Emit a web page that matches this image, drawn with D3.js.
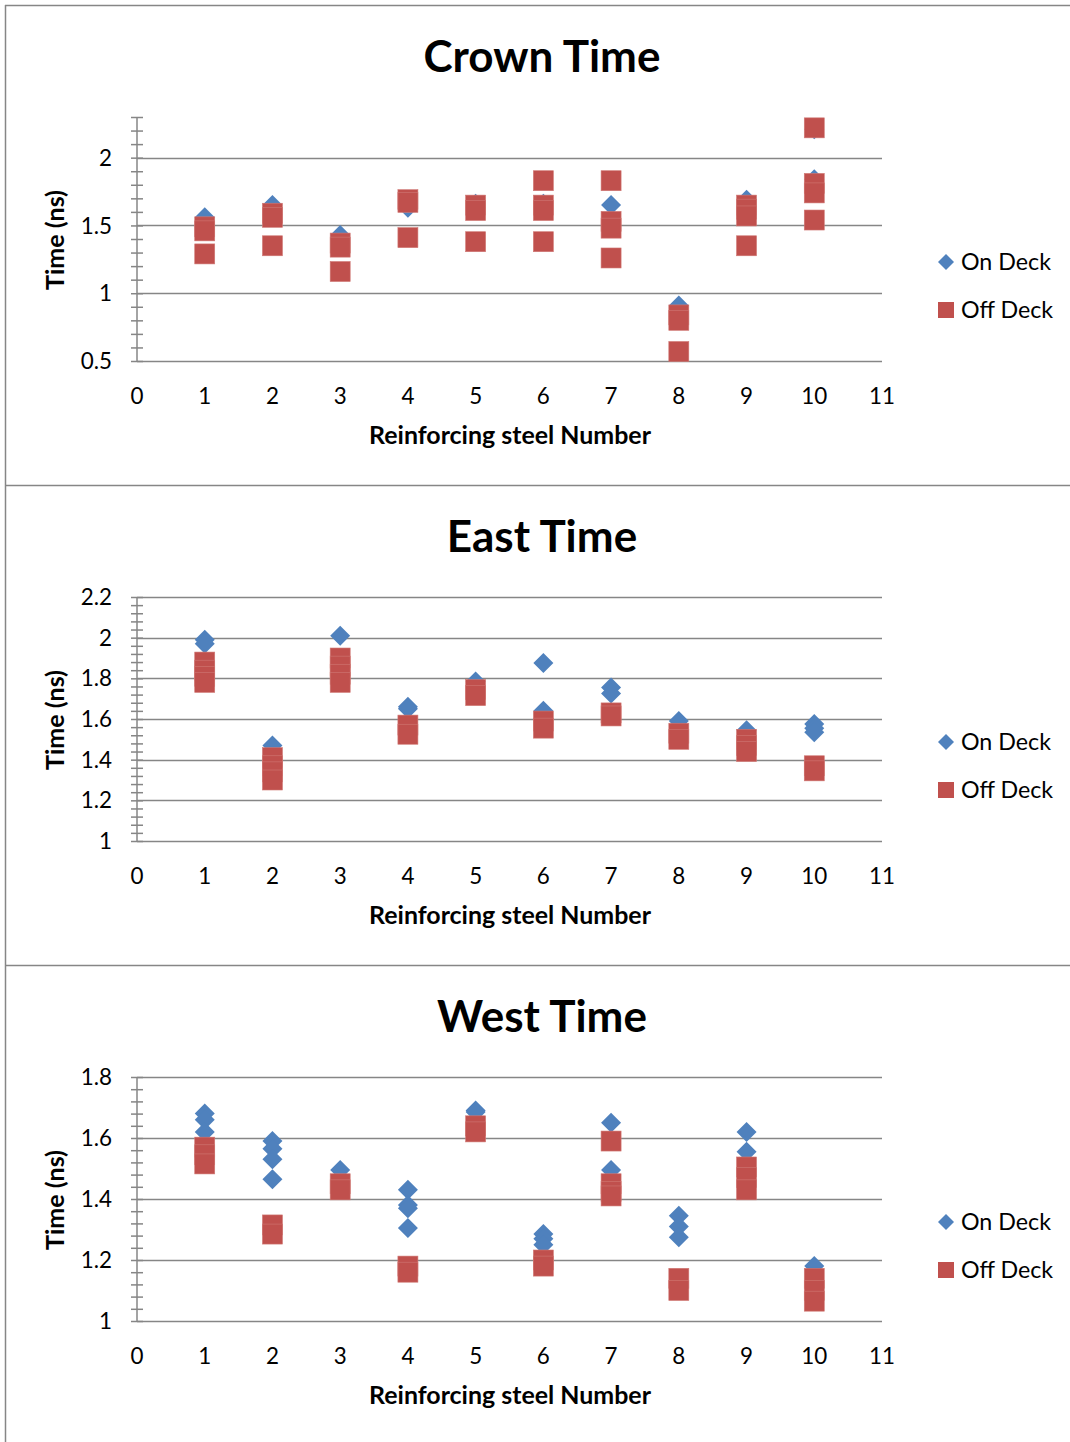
<!DOCTYPE html>
<html><head><meta charset="utf-8">
<script src="https://cdn.jsdelivr.net/npm/d3@7"></script>
<style>body{margin:0;background:#fff}svg{display:block}text{font-family:Lato,"Open Sans",sans-serif}</style>
</head><body><svg id="c" width="1070" height="1442"></svg>
<script>
// ---------- data ----------
const xTickLabels = ["0","1","2","3","4","5","6","7","8","9","10","11"];
const seriesNames = ["On Deck", "Off Deck"];
const xTitle = "Reinforcing steel Number";
const yTitle = "Time (ns)";

const crownTitle = "Crown Time";
const crownYTicks = [0.5, 1, 1.5, 2];
const crownYTickLabels = ["0.5", "1", "1.5", "2"];
const crownYDomain = [0.5, 2.3];
const crownMinorStep = 0.1;
const crownOnDeck = [[1,1.56],[1,1.49],[2,1.65],[2,1.58],[3,1.43],[3,1.37],[4,1.63],[4,1.68],[5,1.66],[5,1.63],
  [6,1.66],[6,1.62],[7,1.65],[7,1.52],[8,0.91],[8,0.83],[9,1.69],[9,1.62],[10,2.21],[10,1.84],[10,1.78]];
const crownOffDeck = [[1,1.49],[1,1.46],[1,1.29],[2,1.59],[2,1.56],[2,1.35],[3,1.37],[3,1.34],[3,1.16],
  [4,1.69],[4,1.67],[4,1.41],[5,1.65],[5,1.61],[5,1.38],[6,1.83],[6,1.65],[6,1.61],[6,1.38],
  [7,1.83],[7,1.53],[7,1.48],[7,1.26],[8,0.84],[8,0.80],[8,0.57],[9,1.65],[9,1.62],[9,1.57],[9,1.35],
  [10,2.22],[10,1.81],[10,1.74],[10,1.54]];

const eastTitle = "East Time";
const eastYTicks = [1, 1.2, 1.4, 1.6, 1.8, 2, 2.2];
const eastYTickLabels = ["1", "1.2", "1.4", "1.6", "1.8", "2", "2.2"];
const eastYDomain = [1, 2.2];
const eastMinorStep = 0.04;
const eastOnDeck = [[1,1.99],[1,1.97],[2,1.47],[3,2.01],[4,1.66],[4,1.65],[5,1.785],[6,1.875],[6,1.64],
  [7,1.755],[7,1.725],[8,1.59],[9,1.545],[10,1.575],[10,1.555],[10,1.535]];
const eastOffDeck = [[1,1.88],[1,1.84],[1,1.81],[1,1.78],[2,1.41],[2,1.37],[2,1.34],[2,1.30],
  [3,1.90],[3,1.86],[3,1.82],[3,1.78],[4,1.57],[4,1.525],[5,1.745],[5,1.715],[6,1.59],[6,1.555],
  [7,1.63],[7,1.615],[8,1.53],[8,1.50],[9,1.50],[9,1.47],[9,1.44],[10,1.37],[10,1.345]];

const westTitle = "West Time";
const westYTicks = [1, 1.2, 1.4, 1.6, 1.8];
const westYTickLabels = ["1", "1.2", "1.4", "1.6", "1.8"];
const westYDomain = [1, 1.8];
const westMinorStep = 0.04;
const westOnDeck = [[1,1.68],[1,1.66],[1,1.62],[2,1.59],[2,1.565],[2,1.53],[2,1.465],[3,1.495],
  [4,1.43],[4,1.38],[4,1.37],[4,1.305],[5,1.69],[5,1.685],[6,1.285],[6,1.27],[6,1.25],[7,1.65],[7,1.495],
  [8,1.345],[8,1.31],[8,1.275],[9,1.62],[9,1.555],[10,1.18]];
const westOffDeck = [[1,1.57],[1,1.545],[1,1.515],[2,1.315],[2,1.285],[3,1.45],[3,1.43],[4,1.18],[4,1.16],
  [5,1.64],[5,1.62],[6,1.20],[6,1.18],[7,1.59],[7,1.45],[7,1.425],[7,1.41],[8,1.14],[8,1.10],
  [9,1.505],[9,1.47],[9,1.43],[10,1.14],[10,1.10],[10,1.065]];

// ---------- drawing ----------
const svg = d3.select("#c");
const GRAY = "#868686", BLUE = "#4F81BD", RED = "#C0504D";
const diamond = r => `M0,${-r}L${r},0L0,${r}L${-r},0Z`;

// frame
svg.append("line").attr("x1",5).attr("x2",1070).attr("y1",5.5).attr("y2",5.5).attr("stroke",GRAY).attr("stroke-width",1.5);
svg.append("line").attr("x1",5.5).attr("x2",5.5).attr("y1",5).attr("y2",1442).attr("stroke",GRAY).attr("stroke-width",1.5);
[485.5, 965.5].forEach(y => svg.append("line").attr("x1",5).attr("x2",1070).attr("y1",y).attr("y2",y).attr("stroke",GRAY).attr("stroke-width",1.5));

function fitSize(textSel, target, base) {
  const w = textSel.node().getComputedTextLength();
  return base * target / w;
}

const charts = [
  {title: crownTitle, on: crownOnDeck, off: crownOffDeck, dom: crownYDomain, ticks: crownYTicks, labels: crownYTickLabels, step: crownMinorStep},
  {title: eastTitle, on: eastOnDeck, off: eastOffDeck, dom: eastYDomain, ticks: eastYTicks, labels: eastYTickLabels, step: eastMinorStep},
  {title: westTitle, on: westOnDeck, off: westOffDeck, dom: westYDomain, ticks: westYTicks, labels: westYTickLabels, step: westMinorStep}
];

// determine font sizes by fitting reference widths
const probe = svg.append("text").attr("font-weight","bold").attr("font-size",40).text(crownTitle);
const titleSize = fitSize(probe, 237, 40);
probe.text(xTitle).attr("font-size",20);
const xTitleSize = fitSize(probe, 282, 20);
probe.text(yTitle);
const yTitleSize = fitSize(probe, 100, 20);
probe.attr("font-weight","normal").text(seriesNames[0]);
const legendSize = fitSize(probe, 90, 20);
probe.text("10");
const tickSize = fitSize(probe, 26, 20);
probe.remove();

charts.forEach((c, i) => {
  const oy = i * 480;
  const g = svg.append("g").attr("transform", `translate(0,${oy})`);
  const x = d3.scaleLinear().domain([0, 11]).range([137, 882]);
  const y = d3.scaleLinear().domain(c.dom).range([361, 117]);

  // title
  g.append("text").attr("x", 542).attr("y", 72).attr("text-anchor","middle")
    .attr("font-weight","bold").attr("font-size", titleSize).attr("fill","#000").text(c.title);

  // gridlines
  g.append("g").selectAll("line").data(c.ticks).join("line")
    .attr("x1", x(0)).attr("x2", x(11))
    .attr("y1", d => Math.round(y(d)) + 0.5).attr("y2", d => Math.round(y(d)) + 0.5)
    .attr("stroke", GRAY).attr("stroke-width", 1.5);

  // minor ticks via axis
  const n = Math.round((c.dom[1] - c.dom[0]) / c.step);
  const minor = d3.range(n + 1).map(k => +(c.dom[0] + k * c.step).toFixed(3));
  const ax = g.append("g").attr("transform", `translate(${x(0)},0)`)
    .call(d3.axisLeft(y).tickValues(minor).tickFormat("").tickSize(6));
  ax.select(".domain").remove();
  ax.selectAll(".tick line").attr("x1", 6).attr("x2", -6).attr("stroke", GRAY).attr("stroke-width", 1.5);
  g.append("line").attr("x1", x(0)).attr("x2", x(0)).attr("y1", y(c.dom[1])).attr("y2", y(c.dom[0]))
    .attr("stroke", GRAY).attr("stroke-width", 1.5);

  // y tick labels
  g.append("g").selectAll("text").data(c.ticks).join("text")
    .attr("x", 112).attr("y", d => y(d) + tickSize * 0.36).attr("text-anchor","end")
    .attr("font-size", tickSize).attr("fill","#000").text((d, k) => c.labels[k]);

  // x tick labels
  g.append("g").selectAll("text").data(xTickLabels).join("text")
    .attr("x", (d) => x(+d)).attr("y", 404).attr("text-anchor","middle")
    .attr("font-size", tickSize).attr("fill","#000").text(d => d);

  // axis titles
  g.append("text").attr("x", 510).attr("y", 444).attr("text-anchor","middle")
    .attr("font-weight","bold").attr("font-size", xTitleSize).attr("fill","#000").text(xTitle);
  g.append("text").attr("transform", `translate(64,240) rotate(-90)`).attr("text-anchor","middle")
    .attr("font-weight","bold").attr("font-size", yTitleSize).attr("fill","#000").text(yTitle);

  // points
  g.append("g").selectAll("path").data(c.on).join("path")
    .attr("d", diamond(10)).attr("transform", d => `translate(${x(d[0])},${y(d[1])})`)
    .attr("fill", BLUE);
  g.append("g").selectAll("rect").data(c.off).join("rect")
    .attr("x", d => x(d[0]) - 10).attr("y", d => y(d[1]) - 10).attr("width", 20).attr("height", 20)
    .attr("fill", RED).attr("stroke", "#D07874").attr("stroke-width", 0.6);

  // legend
  const lg = g.append("g");
  lg.append("path").attr("d", diamond(8)).attr("transform","translate(946,262)").attr("fill", BLUE);
  lg.append("text").attr("x", 961).attr("y", 262 + legendSize * 0.36).attr("font-size", legendSize).attr("fill","#000").text(seriesNames[0]);
  lg.append("rect").attr("x", 938).attr("y", 302).attr("width", 16).attr("height", 16).attr("fill", RED);
  lg.append("text").attr("x", 961).attr("y", 310 + legendSize * 0.36).attr("font-size", legendSize).attr("fill","#000").text(seriesNames[1]);
});
</script>
</body></html>
